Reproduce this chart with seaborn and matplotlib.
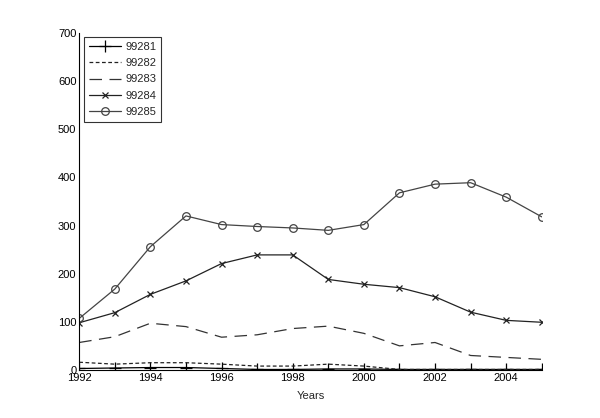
import matplotlib
matplotlib.use("Agg")
import matplotlib.pyplot as plt
import seaborn as sns
import pandas as pd

years = list(range(1992, 2006))
s99281 = [3, 4, 5, 5, 3, 1, 1, 2, 2, 1, 1, 1, 1, 1]
s99282 = [16, 12, 15, 15, 12, 8, 8, 12, 8, 1, 1, 1, 1, 1]
s99283 = [57, 69, 97, 90, 68, 73, 86, 91, 76, 50, 57, 30, 26, 22]
s99284 = [98, 119, 157, 185, 221, 239, 239, 188, 178, 171, 152, 120, 103, 99]
s99285 = [107, 168, 256, 320, 302, 298, 295, 290, 302, 368, 386, 389, 359, 318]
names = ["99281", "99282", "99283", "99284", "99285"]
x_ticks = [1992, 1994, 1996, 1998, 2000, 2002, 2004]
y_ticks = [0, 100, 200, 300, 400, 500, 600, 700]

sns.set_style("white")
plt.rcParams['font.family'] = ['Liberation Sans', 'DejaVu Sans']

fig = plt.figure(figsize=(6.0, 4.18), dpi=100)
ax = fig.add_axes([0.132, 0.115, 0.771, 0.806])

series = [s99281, s99282, s99283, s99284, s99285]
styles = [
    dict(marker='+', linestyle='-', markersize=8, color='black'),
    dict(marker=None, linestyle=(0, (3, 2)), color='#222222'),
    dict(marker=None, linestyle=(0, (10, 6)), color='#333333'),
    dict(marker='x', linestyle='-', markersize=4.5, color='#222222'),
    dict(marker='o', linestyle='-', markersize=5.5, color='#444444'),
]
for name, vals, st in zip(names, series, styles):
    df = pd.DataFrame({"Years": years, "v": vals})
    kw = dict(st)
    mk = kw.pop('marker')
    ls = kw.pop('linestyle')
    col = kw.pop('color')
    sns.lineplot(data=df, x="Years", y="v", ax=ax, label=name,
                 marker=mk, linestyle=ls, linewidth=0.9, color=col,
                 markeredgewidth=0.9, markeredgecolor=col,
                 markerfacecolor='none', **kw)

ax.set_xlim(1992, 2005)
ax.set_ylim(0, 700)
ax.set_xticks(x_ticks)
ax.set_yticks(y_ticks)
ax.set_xticklabels([str(t) for t in x_ticks])
ax.set_yticklabels([str(t) for t in y_ticks])
ax.tick_params(direction='in', length=4, width=0.8, labelsize=8, pad=2,
               colors='black')
ax.set_xlabel("Years", fontsize=8, labelpad=6)
ax.set_ylabel("")
for side in ['top', 'right']:
    ax.spines[side].set_visible(False)
for side in ['left', 'bottom']:
    ax.spines[side].set_color('black')
    ax.spines[side].set_linewidth(0.8)

leg = ax.legend(loc='upper left', bbox_to_anchor=(0.011, 0.988), fontsize=8,
                frameon=True, fancybox=False, edgecolor='black',
                borderaxespad=0, handlelength=2.9, labelspacing=0.58,
                borderpad=0.4, handletextpad=0.45)
leg.get_frame().set_linewidth(0.8)

fig.savefig("out.png", dpi=100)
